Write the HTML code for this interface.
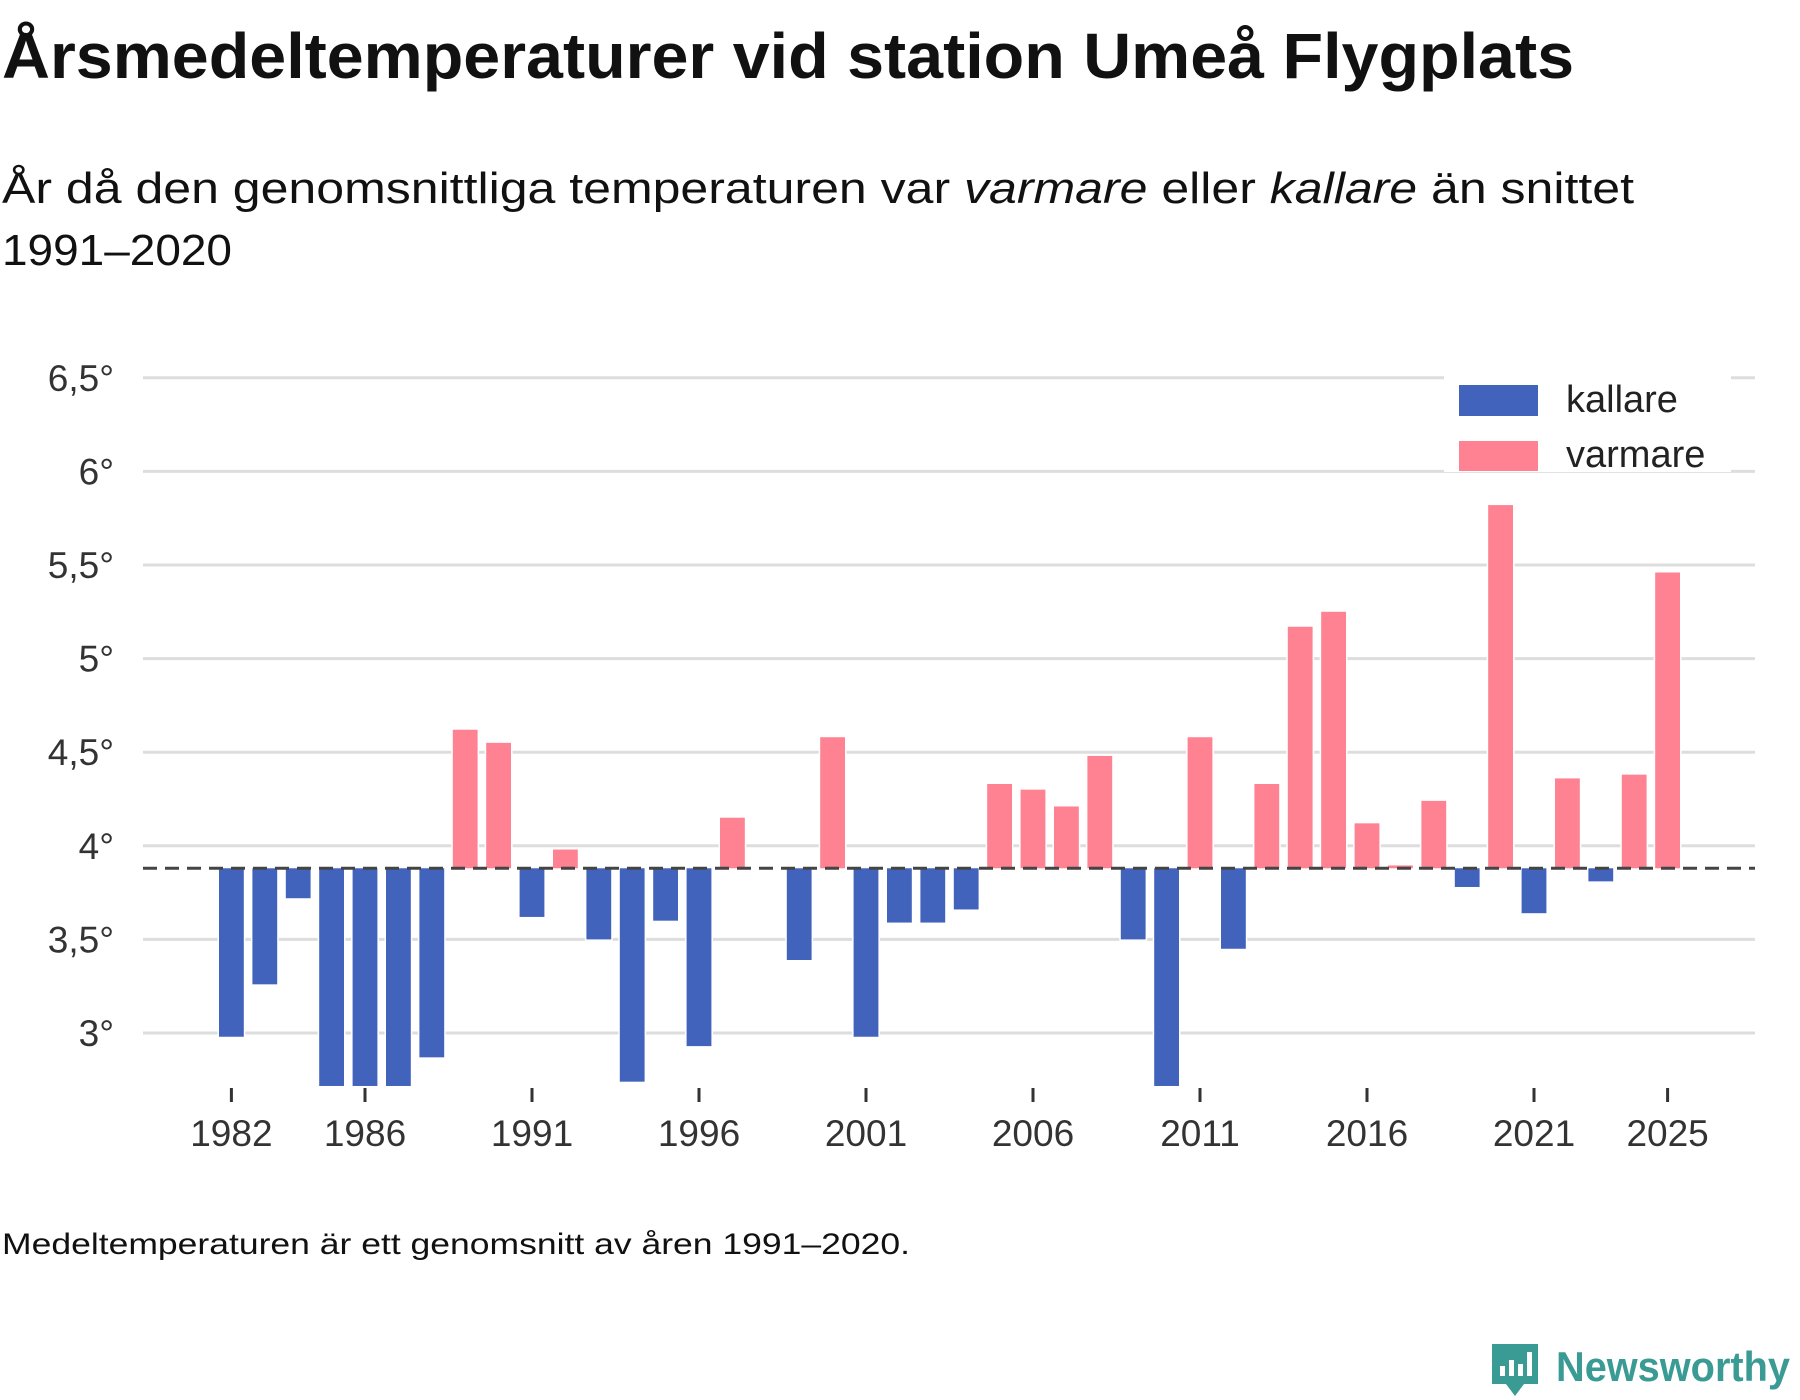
<!DOCTYPE html>
<html><head><meta charset="utf-8"><style>
html,body{margin:0;padding:0;background:#fff}
svg{display:block;font-family:"Liberation Sans",sans-serif}
</style></head><body>
<svg id="chart" width="1800" height="1400" viewBox="0 0 1800 1400" xmlns="http://www.w3.org/2000/svg">
<text x="2" y="78" font-size="64" font-weight="bold" fill="#111" textLength="1572" lengthAdjust="spacingAndGlyphs">Årsmedeltemperaturer vid station Umeå Flygplats</text>
<text x="2" y="203" font-size="44" fill="#111" textLength="1632" lengthAdjust="spacingAndGlyphs">År då den genomsnittliga temperaturen var <tspan font-style="italic">varmare</tspan> eller <tspan font-style="italic">kallare</tspan> än snittet</text>
<text x="2" y="265" font-size="44" fill="#111" textLength="230" lengthAdjust="spacingAndGlyphs">1991–2020</text>
<g id="grid"></g>
<g id="bars"></g>
<g id="xaxis"></g>
<line id="baseline" stroke="#444" stroke-width="3" stroke-dasharray="14,8"/>
<g>
<rect x="1444" y="376" width="287" height="96" fill="#fff"/>
<rect x="1459" y="385" width="79" height="31" fill="#4263bb"/>
<text x="1566" y="412" font-size="38" fill="#222">kallare</text>
<rect x="1459" y="441" width="79" height="30" fill="#fe8291"/>
<text x="1566" y="467" font-size="38" fill="#222">varmare</text>
</g>
<text x="2" y="1254" font-size="30" fill="#111" textLength="908" lengthAdjust="spacingAndGlyphs">Medeltemperaturen är ett genomsnitt av åren 1991–2020.</text>
<g>
<path d="M1492 1344 h46 v40 h-14 l-9 12 l-9 -12 h-14 z" fill="#3a9a94"/>
<rect x="1500" y="1366" width="5" height="10" fill="#fff"/><rect x="1509" y="1360" width="5" height="16" fill="#fff"/><rect x="1518" y="1364" width="5" height="12" fill="#fff"/><rect x="1527" y="1352" width="5" height="24" fill="#fff"/>
<text x="1556" y="1381" font-size="42" font-weight="bold" fill="#3a9a94" textLength="234" lengthAdjust="spacingAndGlyphs">Newsworthy</text>
</g>
</svg>
<script>
const years = [1982,1983,1984,1985,1986,1987,1988,1989,1990,1991,1992,1993,1994,1995,1996,1997,1999,2000,2001,2002,2003,2004,2005,2006,2007,2008,2009,2010,2011,2012,2013,2014,2015,2016,2017,2018,2019,2020,2021,2022,2023,2024,2025];
const temps = [2.98,3.26,3.72,2.6,2.6,2.6,2.87,4.62,4.55,3.62,3.98,3.50,2.74,3.60,2.93,4.15,3.39,4.58,2.98,3.59,3.59,3.66,4.33,4.30,4.21,4.48,3.50,2.6,4.58,3.45,4.33,5.17,5.25,4.12,3.895,4.24,3.78,5.82,3.64,4.36,3.81,4.38,5.46];
const average = [3.88];
const yTicks = [3,3.5,4,4.5,5,5.5,6,6.5];
const yTickLabels = ["3°","3,5°","4°","4,5°","5°","5,5°","6°","6,5°"];
const xTicks = [1982,1986,1991,1996,2001,2006,2011,2016,2021,2025];

const NS="http://www.w3.org/2000/svg";
const yMin=2.717;
function y(v){return 1033-(v-3)*187.2;}
function x(yr){return 231.4+(yr-1982)*33.4;}
const plotL=143, plotR=1755;
function mk(tag,attrs,parent){const e=document.createElementNS(NS,tag);for(const k in attrs)e.setAttribute(k,attrs[k]);parent.appendChild(e);return e;}
const grid=document.getElementById('grid');
yTicks.forEach((t,i)=>{
  const l=mk('line',{x1:plotL,x2:plotR,y1:y(t),y2:y(t),stroke:'#dddddd','stroke-width':3},grid);
  
  
  const tx=mk('text',{x:114,y:y(t)+13,'font-size':37,fill:'#333','text-anchor':'end'},grid);
  tx.textContent=yTickLabels[i];
  
  
});
const bars=document.getElementById('bars');
const avg=average[0];
years.forEach((yr,i)=>{
  const v=Math.max(temps[i],yMin);
  const top=Math.min(y(v),y(avg)), bot=Math.max(y(v),y(avg));
  const r=mk('rect',{x:x(yr)-12.4,y:top,width:24.8,height:bot-top,fill:temps[i]>=avg?'#fe8291':'#4263bb',stroke:'#fff','stroke-width':3,'paint-order':'stroke'},bars);
  
  
});
const xa=document.getElementById('xaxis');
xTicks.forEach(yr=>{
  const t=mk('line',{x1:x(yr),x2:x(yr),y1:1088,y2:1102,stroke:'#333','stroke-width':3},xa);
  
  
  const tx=mk('text',{x:x(yr),y:1146,'font-size':37,fill:'#333','text-anchor':'middle'},xa);
  tx.textContent=yr;
  
  
});
const bl=document.getElementById('baseline');
bl.setAttribute('x1',plotL);bl.setAttribute('x2',plotR);
bl.setAttribute('y1',y(avg));bl.setAttribute('y2',y(avg));
</script>
</body></html>
